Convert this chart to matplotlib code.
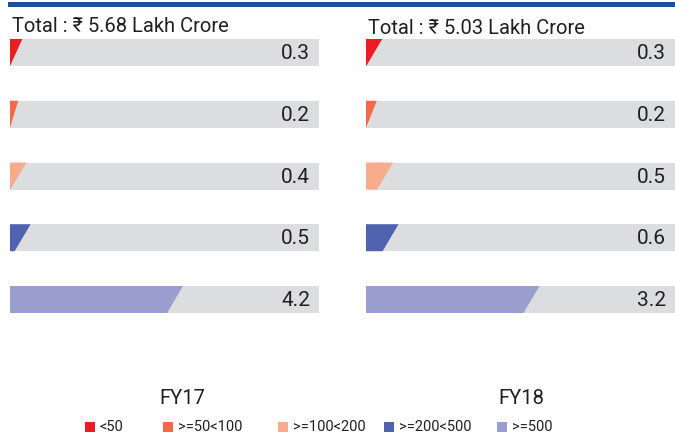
import matplotlib
matplotlib.use("Agg")
import matplotlib.pyplot as plt
from matplotlib.patches import Polygon, Rectangle
from matplotlib.lines import Line2D
import matplotlib.transforms as mtransforms

plt.rcParams["font.family"] = ["Roboto", "DejaVu Sans"]

# data
categories = ["<50", ">=50<100", ">=100<200", ">=200<500", ">=500"]
colors = ["#ED1C24", "#F26A4A", "#F8AC8E", "#5062B0", "#9A9ECE"]
years = ["FY17", "FY18"]
totals = ["5.68", "5.03"]
fy17 = [0.3, 0.2, 0.4, 0.5, 4.2]
fy18 = [0.3, 0.2, 0.5, 0.6, 3.2]
xmax = [7.5, 5.7]

W, H = 675, 433
fig = plt.figure(figsize=(W / 100, H / 100), dpi=100)
txt = "#231F20"

def fx(px):
    return px / W

def fy(px):
    return 1 - px / H

# top rule
fig.add_artist(Line2D([fx(10), 1], [fy(4), fy(4)], color="#1F4E9E", lw=3.6,
                      transform=fig.transFigure))

bar_h = 27 / 61.75
panels = [(10, 319), (366, 675)]
title_y = [32, 34]
label_x = [182, 521]

for k, vals in enumerate([fy17, fy18]):
    x0, x1 = panels[k]
    ax = fig.add_axes([fx(x0), fy(313), fx(x1 - x0), fy(39) - fy(313)])
    ax.set_xlim(0, xmax[k])
    ax.set_ylim(4 + bar_h / 2, -bar_h / 2)
    ax.axis("off")
    slant = 16 / (x1 - x0) * xmax[k]
    trans = mtransforms.blended_transform_factory(ax.transAxes, ax.transData)
    for i, v in enumerate(vals):
        top, bot = i - bar_h / 2, i + bar_h / 2
        ax.add_patch(Rectangle((0, top), xmax[k], bar_h, color="#DCDDDE", lw=0))
        pts = [(0, top), (v, top), (max(v - slant, 0), bot), (0, bot)]
        ax.add_patch(Polygon(pts, closed=True, color=colors[i], lw=0))
        ax.text(1 - 9 / (x1 - x0), i + 0.02, f"{v}", transform=trans,
                ha="right", va="center", fontsize=15, color=txt)
    fig.text(fx(x0 + 2), fy(title_y[k]), f"Total : \u20b9 {totals[k]} Lakh Crore",
             ha="left", va="baseline", fontsize=14.5, color=txt)
    fig.text(fx(label_x[k]), fy(398), years[k], ha="center", va="center",
             fontsize=14.5, color=txt)

# legend
leg_x = [85, 163, 278, 384, 497]
for c, lab, lx in zip(colors, categories, leg_x):
    fig.add_artist(Rectangle((fx(lx), fy(432)), fx(10), 10 / H, color=c, lw=0,
                             transform=fig.transFigure))
    fig.text(fx(lx + 15), fy(427), lab, ha="left", va="center",
             fontsize=10.5, color=txt)

fig.savefig("out.png", dpi=100)
